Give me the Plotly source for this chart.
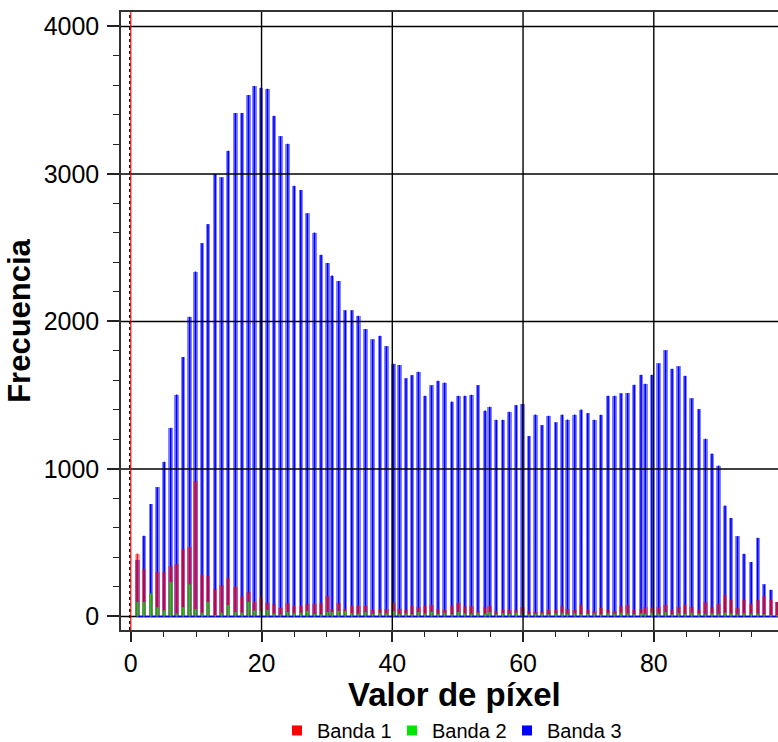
import plotly.graph_objects as go

# ---------------- data ----------------
valor = [1.0, 2.0, 3.05, 4.05, 5.1, 6.1, 7.0, 8.0, 9.0, 9.9,
         10.9, 11.8, 12.9, 13.9, 14.9, 16.0, 17.0, 18.0, 18.9, 19.9,
         20.9, 21.9, 22.9, 24.0, 25.0, 26.0, 27.0, 28.1, 29.1,
         30.1, 30.8, 31.8, 32.8, 33.8, 34.8, 35.9, 37.0, 38.1, 39.1,
         40.2, 41.1, 42.1, 43.0, 44.0, 45.0, 46.0, 47.0, 48.0, 49.1,
         50.1, 51.1, 52.1, 53.1, 54.2, 54.9, 55.9, 56.9, 57.9, 58.95,
         59.9, 60.9, 61.9, 62.9, 63.9, 65.0, 66.0, 66.8, 67.9, 68.9,
         69.9, 70.9, 71.9, 73.0, 74.0, 75.0, 76.0, 77.0, 78.05, 78.7,
         79.7, 80.75, 81.8, 82.8, 83.8, 84.8, 85.8, 86.9, 87.9, 88.9,
         89.9, 90.9, 91.8, 92.8, 93.8, 94.9, 95.9, 96.9, 97.9, 98.9]

banda3 = [384, 547, 762, 876, 1049, 1280, 1504, 1759, 2032, 2338,
          2530, 2659, 3000, 2976, 3158, 3414, 3414, 3535, 3596, 3584,
          3577, 3394, 3255, 3204, 2920, 2891, 2732, 2603, 2453,
          2397, 2311, 2275, 2075, 2075, 2039, 1949, 1878, 1903, 1831,
          1713, 1704, 1614, 1636, 1659, 1496, 1566, 1598, 1586, 1457,
          1496, 1496, 1503, 1568, 1396, 1421, 1333, 1333, 1387, 1432,
          1441, 1224, 1369, 1297, 1360, 1315, 1369, 1335, 1369, 1403,
          1378, 1333, 1367, 1496, 1496, 1512, 1514, 1570, 1638, 1577,
          1638, 1715, 1804, 1679, 1695, 1631, 1478, 1405, 1204, 1104,
          1023, 752, 668, 543, 425, 369, 534, 217, 181, 98]

banda1 = [426, 320, 150, 300, 300, 340, 353, 455, 473, 916,
          283, 272, 183, 210, 262, 201, 136, 163, 97, 131,
          90, 81, 59, 90, 72, 72, 81, 84, 90,
          136, 52, 90, 52, 72, 72, 72, 45, 52, 52,
          93, 52, 45, 72, 63, 72, 79, 52, 45, 70,
          93, 68, 70, 36, 63, 72, 36, 45, 45, 45,
          63, 36, 29, 36, 45, 45, 68, 52, 45, 79,
          45, 36, 59, 45, 36, 68, 79, 45, 52, 63,
          63, 63, 79, 45, 63, 79, 63, 45, 95, 63,
          86, 143, 109, 59, 113, 86, 109, 136, 113, 97]

banda2 = [97, 97, 156, 63, 41, 233, 20, 63, 217, 50,
          25, 97, 10, 25, 77, 30, 25, 97, 40, 40,
          43, 20, 15, 30, 22, 25, 38, 18, 15,
          30, 28, 36, 36, 22, 20, 29, 18, 25, 20,
          35, 18, 22, 15, 28, 20, 30, 18, 25, 15,
          30, 22, 18, 25, 20, 28, 15, 22, 18, 25,
          20, 15, 18, 22, 15, 20, 25, 18, 22, 15,
          18, 20, 15, 22, 18, 25, 20, 15, 22, 18,
          25, 20, 28, 15, 22, 18, 25, 20, 15, 22,
          18, 25, 20, 15, 22, 18, 20, 15, 12, 10]

series_names = ["Banda 1", "Banda 2", "Banda 3"]
x_ticks = [0, 20, 40, 60, 80]
y_ticks = [0, 1000, 2000, 3000, 4000]
marker_x = 0  # vertical marker line
x_title = "Valor de píxel"
y_title = "Frecuencia"

# ---------------- styling ----------------
FONT = "Liberation Sans, Arial, sans-serif"
colors = {"Banda 1": (255, 0, 0), "Banda 2": (0, 230, 0), "Banda 3": (0, 0, 255)}
line_alpha = {"Banda 1": 0.85, "Banda 2": 0.9, "Banda 3": 1.0}
halo_alpha = {"Banda 1": 0.35, "Banda 2": 0.35, "Banda 3": 0.48}


def rgba(c, a):
    return f"rgba({c[0]},{c[1]},{c[2]},{a})"


def stems(xs, ys, baseline):
    px, py = [], []
    for xv, yv in zip(xs, ys):
        px += [xv, xv, xv]
        py += [0, yv, 0]
        if not baseline:
            px.append(None)
            py.append(None)
    return px, py


fig = go.Figure()
data = {"Banda 1": banda1, "Banda 2": banda2, "Banda 3": banda3}
for name in ["Banda 3", "Banda 1", "Banda 2"]:
    c = colors[name]
    vals = data[name]
    fig.add_trace(go.Bar(x=valor, y=vals, width=0.68,
                         marker=dict(color=rgba(c, halo_alpha[name]), line=dict(width=0)),
                         showlegend=False, hoverinfo="skip"))
    sx, sy = stems(valor, vals, name == "Banda 3")
    fig.add_trace(go.Scatter(x=sx, y=sy, mode="lines",
                             line=dict(color=rgba(c, line_alpha[name]), width=1.6),
                             showlegend=False, hoverinfo="skip"))

# legend entries
for name in series_names:
    c = colors[name]
    fig.add_trace(go.Scatter(x=[None], y=[None], mode="markers", name=name,
                             marker=dict(symbol="square", size=10, color=rgba(c, 1))))

shapes = []
for xv in x_ticks[1:]:
    shapes.append(dict(type="line", xref="x", yref="paper", x0=xv, x1=xv, y0=0, y1=1,
                       line=dict(color="black", width=1.4), layer="above"))
for yv in y_ticks[1:]:
    shapes.append(dict(type="line", xref="paper", yref="y", x0=0, x1=1, y0=yv, y1=yv,
                       line=dict(color="black", width=1.4), layer="above"))
shapes.append(dict(type="line", xref="paper", yref="y", x0=0, x1=1, y0=0, y1=0,
                   line=dict(color="black", width=1.4), layer="below"))
shapes.append(dict(type="line", xref="x", yref="paper", x0=marker_x, x1=marker_x, y0=0, y1=1,
                   line=dict(color="red", width=1.2), layer="above"))
shapes.append(dict(type="line", xref="x", yref="paper", x0=marker_x - 0.17, x1=marker_x - 0.17, y0=0, y1=1,
                   line=dict(color="black", width=1.2, dash="3px,3px"), layer="above"))

fig.update_layout(
    width=778, height=742,
    margin=dict(l=121, r=0, t=12, b=112, autoexpand=False),
    paper_bgcolor="white", plot_bgcolor="white",
    barmode="overlay", bargap=0,
    font=dict(family=FONT, color="black"),
    shapes=shapes,
    showlegend=True,
    legend=dict(orientation="h", x=0.5, xanchor="center", y=-0.131, yanchor="top",
                font=dict(family=FONT, size=20, color="black"),
                entrywidth=70, entrywidthmode="pixels", itemwidth=30,
                bgcolor="rgba(0,0,0,0)"),
    annotations=[dict(text=f"<b>{x_title}</b>", xref="paper", yref="paper",
                      x=0.5076, y=-0.105, xanchor="center", yanchor="middle", showarrow=False,
                      font=dict(family=FONT, size=33, color="black"))],
)

fig.update_xaxes(
    automargin=False,
    range=[-1.5, 99.0], showgrid=False, zeroline=False,
    showline=True, linecolor="#333333", linewidth=1.5, mirror=True,
    tickmode="array", tickvals=x_ticks, ticktext=[str(v) for v in x_ticks],
    ticks="outside", ticklen=10, tickwidth=1.5, tickcolor="#222222",
    minor=dict(dtick=5, tick0=0, ticks="outside", ticklen=5, tickwidth=1.3, tickcolor="#222222"),
    tickfont=dict(family=FONT, size=25, color="black"),
    ticklabelstandoff=0,
)
fig.update_yaxes(
    automargin=False,
    range=[-92, 4098], showgrid=False, zeroline=False,
    showline=True, linecolor="#333333", linewidth=1.5, mirror=False,
    tickmode="array", tickvals=y_ticks, ticktext=[str(v) for v in y_ticks],
    ticks="outside", ticklen=12, tickwidth=1.5, tickcolor="#222222",
    minor=dict(dtick=200, tick0=0, ticks="outside", ticklen=6, tickwidth=1.3, tickcolor="#222222"),
    tickfont=dict(family=FONT, size=25, color="black"),
    ticklabelstandoff=3,
    title=dict(text=f"<b>{y_title}</b>", font=dict(family=FONT, size=31, color="black"), standoff=4),
)

fig.write_html("out.html", config={"displayModeBar": False},
               post_script="document.body.style.margin='0';")
